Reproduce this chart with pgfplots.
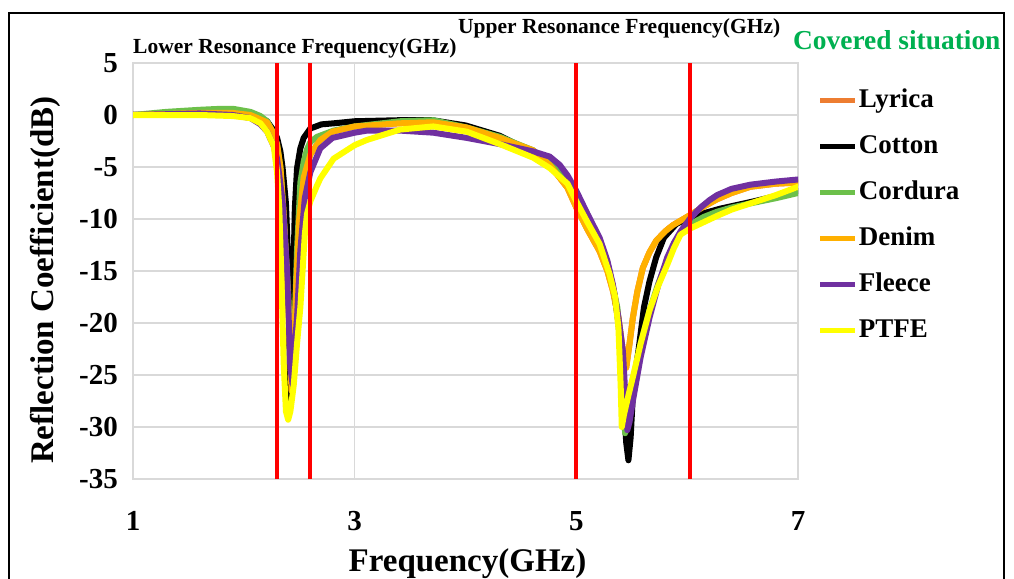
\documentclass[border=0pt]{standalone}
\usepackage{fontspec}
\setmainfont{Liberation Serif}
\usepackage{pgfplots}
\pgfplotsset{compat=1.18}
\definecolor{cLyrica}{HTML}{ED7D31}
\definecolor{cCordura}{RGB}{108,192,74}
\definecolor{cDenim}{HTML}{FFB000}
\definecolor{cFleece}{HTML}{7030A0}
\definecolor{cPTFE}{HTML}{FFFF00}
\definecolor{cGrid}{HTML}{D9D9D9}
\definecolor{cTitle}{HTML}{00B050}
\begin{document}
\begin{tikzpicture}[x=1pt,y=1pt]
\begin{axis}[
  at={(133pt,-479pt)}, anchor=south west,
  scale only axis, width=665pt, height=416pt,
  xmin=1, xmax=7, ymin=-35, ymax=5,
  xtick={1,3,5,7}, xticklabels={1,3,5,7},
  ytick={-35,-30,-25,-20,-15,-10,-5,0,5},
  yticklabels={-35,-30,-25,-20,-15,-10,-5,0,5},
  grid=major, major grid style={draw=cGrid, line width=1.5pt},
  axis line style={draw=cGrid, line width=1.5pt},
  tick style={draw=none},
  ticklabel style={font=\fontsize{29}{29}\selectfont\bfseries, inner sep=0pt},
  yticklabel style={anchor=east, xshift=-15pt},
  xticklabel style={anchor=base, yshift=-51pt},
  xlabel={Frequency(GHz)},
  ylabel={Reflection Coefficient(dB)},
  xlabel style={at={(axis description cs:0.503,-0.2212)}, anchor=base, font=\fontsize{33}{33}\selectfont\bfseries, inner sep=0pt},
  ylabel style={at={(axis description cs:-0.1323,0.478)}, anchor=center, font=\fontsize{33}{33}\selectfont\bfseries, inner sep=0pt},
  legend cell align=left,
  legend style={at={(axis description cs:1.030,0.942)}, anchor=north west, draw=none, fill=none,
     inner sep=0pt, outer sep=0pt, row sep=20pt, column sep=1pt,
     font=\fontsize{27}{27}\selectfont\bfseries,
     nodes={inner sep=0pt, text height=20pt, text depth=6pt}},
  legend image code/.code={\draw[#1, line width=5pt, line cap=butt] (0pt,0pt) -- (35pt,0pt);},
  every axis plot/.append style={line width=6pt, line join=round, line cap=round},
]
% Lyrica
\addplot[cLyrica] coordinates {
(1,0) (1.6,0.2) (1.9,0.2) (2.06,0) (2.21,-0.7) (2.27,-1.8) (2.30,-2.8) (2.33,-5) (2.36,-9.5) (2.40,-18) (2.43,-26.5) (2.45,-24) (2.47,-17) (2.50,-10) (2.54,-6) (2.6,-3.8) (2.69,-2.4) (2.8,-1.6) (3.0,-1.1) (3.4,-0.8) (3.71,-0.7) (4.01,-1.2) (4.31,-2.2) (4.61,-3.4) (4.76,-4.8) (4.92,-7.0) (5.0,-8.9) (5.1,-11) (5.21,-13.1) (5.28,-15) (5.33,-16.9) (5.38,-19.5) (5.42,-22.7) (5.45,-24.3) (5.48,-22) (5.51,-19.5) (5.55,-17) (5.6,-14.7) (5.66,-13.2) (5.72,-12.1) (5.8,-11.2) (5.87,-10.6) (6.03,-9.6) (6.15,-8.8) (6.27,-8.1) (6.4,-7.5) (6.57,-6.9) (6.8,-6.6) (7.0,-6.5)
};
\addlegendentry{Lyrica}
% Cotton
\addplot[black] coordinates {
(1,0) (1.3,0.1) (1.6,0.3) (1.9,0.2) (2.06,0) (2.15,-0.3) (2.21,-0.6) (2.27,-1.5) (2.30,-2.2) (2.33,-3.5) (2.35,-5.1) (2.38,-8.5) (2.40,-14) (2.42,-28.1) (2.43,-25) (2.445,-16.3) (2.46,-9) (2.48,-5.1) (2.51,-3.2) (2.54,-2.2) (2.6,-1.3) (2.7,-0.9) (2.81,-0.8) (3.0,-0.6) (3.4,-0.5) (3.7,-0.5) (4.0,-1.0) (4.31,-2.0) (4.61,-3.6) (4.76,-4.5) (4.92,-6.3) (5.0,-7.6) (5.1,-9.8) (5.21,-12.0) (5.28,-14.2) (5.34,-17) (5.38,-20) (5.41,-24) (5.43,-28) (5.45,-31.5) (5.47,-33.2) (5.49,-31) (5.51,-27) (5.535,-24.5) (5.56,-22.7) (5.61,-18.5) (5.66,-16) (5.72,-13.7) (5.79,-11.8) (5.9,-10.5) (6.03,-9.8) (6.3,-9.0) (6.6,-8.3) (7.0,-7.3)
};
\addlegendentry{Cotton}
% Cordura
\addplot[cCordura] coordinates {
(1,0) (1.3,0.3) (1.6,0.5) (1.8,0.6) (1.9,0.6) (2.06,0.3) (2.15,-0.1) (2.21,-0.6) (2.27,-1.8) (2.30,-2.9) (2.33,-5) (2.36,-9.9) (2.40,-17) (2.43,-25) (2.44,-26) (2.46,-20) (2.48,-13) (2.51,-6.5) (2.54,-4.5) (2.57,-3.3) (2.6,-2.6) (2.66,-2.1) (2.81,-1.5) (3.0,-1.1) (3.41,-0.6) (3.71,-0.5) (4.01,-1.2) (4.31,-2.1) (4.61,-3.4) (4.76,-4.6) (4.92,-6.4) (5.0,-8.0) (5.1,-10.2) (5.21,-12.4) (5.3,-15.2) (5.37,-18.5) (5.40,-22) (5.42,-25.9) (5.44,-30.6) (5.46,-29) (5.51,-25.9) (5.58,-22) (5.66,-18.8) (5.74,-16.2) (5.82,-14) (5.88,-12.5) (5.94,-11.3) (6.03,-10.5) (6.15,-9.8) (6.27,-9.3) (6.4,-8.9) (6.57,-8.5) (6.8,-8.0) (7.0,-7.5)
};
\addlegendentry{Cordura}
% Denim
\addplot[cDenim] coordinates {
(1,0) (1.6,0.2) (1.9,0.2) (2.06,0) (2.21,-0.7) (2.27,-1.8) (2.30,-2.8) (2.33,-5) (2.36,-9.5) (2.40,-18) (2.43,-26.5) (2.45,-24) (2.47,-17) (2.50,-10) (2.54,-6) (2.6,-3.8) (2.69,-2.4) (2.8,-1.6) (3.0,-1.1) (3.4,-0.8) (3.71,-0.7) (4.01,-1.2) (4.31,-2.2) (4.61,-3.4) (4.76,-4.8) (4.92,-7.0) (5.0,-8.9) (5.1,-11) (5.21,-13.1) (5.28,-15) (5.33,-16.9) (5.38,-19.5) (5.42,-22.7) (5.45,-24.3) (5.48,-22) (5.51,-19.5) (5.55,-17) (5.6,-14.7) (5.66,-13.2) (5.72,-12.1) (5.8,-11.2) (5.87,-10.6) (6.03,-9.6) (6.15,-8.8) (6.27,-8.1) (6.4,-7.5) (6.57,-6.9) (6.8,-6.6) (7.0,-6.5)
};
\addlegendentry{Denim}
% Fleece
\addplot[cFleece] coordinates {
(1,0) (1.6,0.15) (1.9,0) (2.06,-0.3) (2.15,-0.9) (2.21,-1.6) (2.27,-3) (2.30,-4.2) (2.35,-8.3) (2.39,-15) (2.42,-24.3) (2.44,-25.9) (2.46,-22) (2.48,-19.5) (2.51,-13) (2.55,-8) (2.6,-5.5) (2.69,-3.2) (2.8,-2.2) (3.0,-1.7) (3.11,-1.5) (3.41,-1.5) (3.71,-1.7) (4.01,-2.2) (4.31,-2.8) (4.61,-3.5) (4.76,-4.0) (4.85,-4.8) (4.92,-5.8) (5.0,-7.3) (5.1,-9.5) (5.21,-11.8) (5.28,-14) (5.33,-16.3) (5.38,-19.5) (5.42,-22.7) (5.44,-26.5) (5.46,-30.3) (5.48,-29.5) (5.51,-27.5) (5.58,-23.3) (5.66,-19.5) (5.74,-16.3) (5.82,-13.7) (5.88,-12.3) (5.94,-11.2) (6.03,-9.9) (6.12,-8.9) (6.2,-8.2) (6.27,-7.7) (6.4,-7.1) (6.57,-6.7) (6.8,-6.4) (7.0,-6.2)
};
\addlegendentry{Fleece}
% PTFE
\addplot[cPTFE] coordinates {
(1,0) (1.6,0) (1.9,-0.1) (2.06,-0.3) (2.15,-0.8) (2.21,-1.6) (2.27,-3) (2.30,-5.5) (2.32,-9) (2.34,-16) (2.36,-24) (2.38,-28.5) (2.40,-29.3) (2.42,-28.5) (2.45,-26) (2.48,-22) (2.51,-18.5) (2.55,-11.5) (2.57,-9.5) (2.6,-8.3) (2.66,-6.8) (2.69,-6.1) (2.81,-4.2) (3.0,-2.9) (3.11,-2.4) (3.41,-1.4) (3.71,-1.1) (4.01,-1.6) (4.31,-2.8) (4.61,-4.1) (4.76,-5.1) (4.92,-6.6) (5.0,-8.3) (5.1,-10.3) (5.21,-12.4) (5.3,-15.3) (5.35,-17.5) (5.38,-20.5) (5.40,-26) (5.41,-30) (5.43,-28.8) (5.46,-27.4) (5.51,-25.2) (5.58,-22) (5.66,-18.8) (5.74,-16.4) (5.82,-14.4) (5.88,-12.8) (5.94,-11.5) (6.03,-10.9) (6.15,-10.3) (6.27,-9.7) (6.4,-9.1) (6.57,-8.5) (6.8,-7.7) (7.0,-6.9)
};
\addlegendentry{PTFE}
% resonance band markers
\addplot[red, line width=4pt, line cap=butt, forget plot] coordinates {(2.3,-35) (2.3,5)};
\addplot[red, line width=4pt, line cap=butt, forget plot] coordinates {(2.6,-35) (2.6,5)};
\addplot[red, line width=4pt, line cap=butt, forget plot] coordinates {(5.0,-35) (5.0,5)};
\addplot[red, line width=4pt, line cap=butt, forget plot] coordinates {(6.03,-35) (6.03,5)};
\end{axis}
\node[anchor=base west, inner sep=0pt, font=\fontsize{21.5}{21.5}\selectfont\bfseries] at (133,-53) {Lower Resonance Frequency(GHz)};
\node[anchor=base west, inner sep=0pt, font=\fontsize{21.5}{21.5}\selectfont\bfseries] at (458,-34) {Upper Resonance Frequency(GHz)};
\node[anchor=base west, inner sep=0pt, text=cTitle, font=\fontsize{27.4}{27.4}\selectfont\bfseries] at (793,-50) {Covered situation};
\draw[line width=2pt] (9,-13) rectangle (1004,-620);
\pgfresetboundingbox
\useasboundingbox (0,0) rectangle (1014,-578);
\end{tikzpicture}
\end{document}
